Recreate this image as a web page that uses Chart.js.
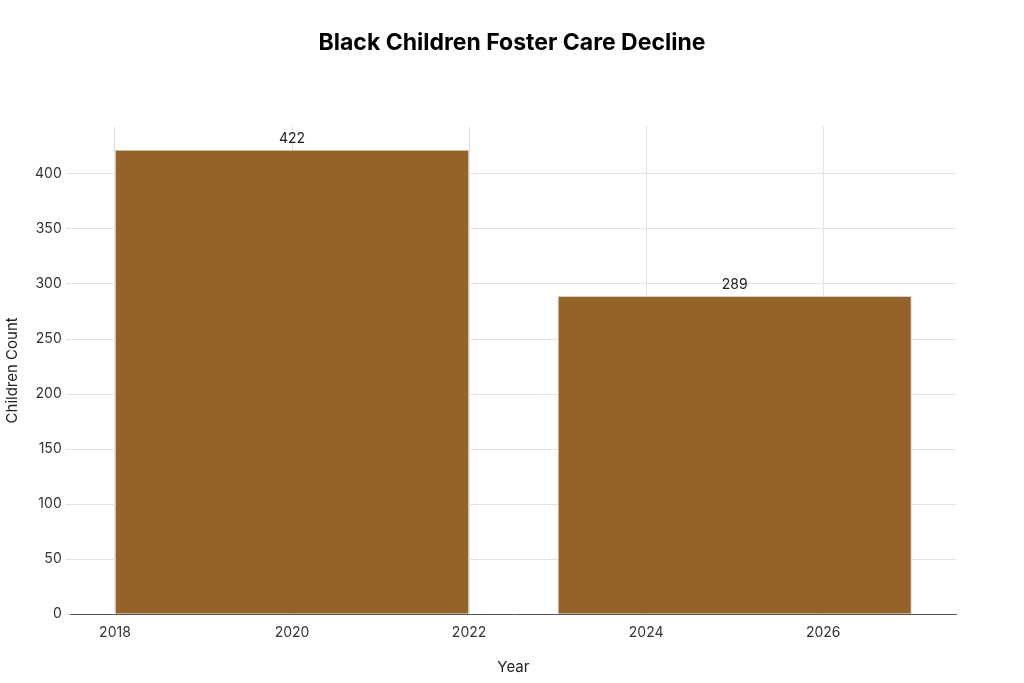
<!DOCTYPE html>
<html>
<head>
<meta charset="utf-8">
<script src="https://cdn.jsdelivr.net/npm/chart.js@4"></script>
<style>
  html, body { margin: 0; padding: 0; background: #fff; }
  #wrap { width: 1024px; height: 683px; }
</style>
</head>
<body>
<div id="wrap"><canvas id="fosterChart" width="1024" height="683"></canvas></div>
<script>
// values
var periodCenters = [2020, 2025];
var childrenCount = [422, 289];
var yearTicks = [2018, 2020, 2022, 2024, 2026];

var barColor = '#956328';
var fontFamily = 'Inter, "Noto Sans", sans-serif';

var points = [];
for (var i = 0; i < periodCenters.length; i++) {
	points.push({ x: periodCenters[i], y: childrenCount[i] });
}

// draw value above each bar
var valueLabels = {
	id: 'valueLabels',
	afterDatasetsDraw: function(chart) {
		var ctx = chart.ctx;
		var meta = chart.getDatasetMeta(0);
		ctx.save();
		ctx.font = '14px ' + fontFamily;
		ctx.fillStyle = '#222';
		ctx.textAlign = 'center';
		ctx.textBaseline = 'bottom';
		meta.data.forEach(function(bar, idx) {
			ctx.fillText(String(childrenCount[idx]), bar.x, bar.y - 4);
		});
		ctx.restore();
	}
};

var ctx1 = document.getElementById('fosterChart').getContext('2d');
var fosterChart = new Chart(ctx1, {
	type: 'bar',
	data: {
		datasets: [{
			label: 'Children Count',
			data: points,
			backgroundColor: barColor,
			borderColor: '#cfcfcf',
			borderWidth: 1,
			// bar width: chart.js measures from the 2-year tick spacing, bars span 4 years
			categoryPercentage: 1,
			barPercentage: 2
		}]
	},
	options: {
		responsive: false,
		animation: false,
		layout: { padding: { left: 0, right: 0, top: 0, bottom: 7 } },
		plugins: {
			legend: { display: false },
			tooltip: { enabled: false },
			title: {
				display: true,
				text: 'Black Children Foster Care Decline',
				color: '#000',
				font: { family: fontFamily, size: 23, weight: 'bold' },
				padding: { top: 29, bottom: 70 }
			}
		},
		scales: {
			x: {
				type: 'linear',
				min: 2017.5,
				max: 2027.5,
				offset: false,
				afterBuildTicks: function(axis) {
					axis.ticks = yearTicks.map(function(v) { return { value: v }; });
				},
				ticks: {
					color: '#333',
					font: { family: fontFamily, size: 14 },
					padding: 10,
					callback: function(v) { return String(v); }
				},
				grid: { color: '#e2e2e2', drawTicks: false, offset: false },
				border: { display: true, color: '#555', width: 1 },
				title: {
					display: true,
					text: 'Year',
					color: '#222',
					font: { family: fontFamily, size: 15 },
					padding: { top: 7, bottom: 0 }
				}
			},
			y: {
				min: 0,
				max: 443,
				afterBuildTicks: function(axis) {
					axis.ticks = axis.ticks.filter(function(t) { return t.value % 50 === 0; });
				},
				ticks: {
					stepSize: 50,
					color: '#333',
					font: { family: fontFamily, size: 14 },
					padding: 4
				},
				grid: { color: '#e2e2e2', tickLength: 5 },
				border: { display: false },
				title: {
					display: true,
					text: 'Children Count',
					color: '#222',
					font: { family: fontFamily, size: 15 },
					padding: { top: 3, bottom: 10 }
				}
			},
			// empty right axis, only keeps the right margin so the title stays centred on the page
			yRight: {
				position: 'right',
				display: true,
				ticks: { display: false },
				grid: { display: false, drawTicks: false },
				border: { display: false },
				afterFit: function(axis) { axis.width = 68; }
			}
		}
	},
	plugins: [valueLabels]
});
</script>
</body>
</html>
